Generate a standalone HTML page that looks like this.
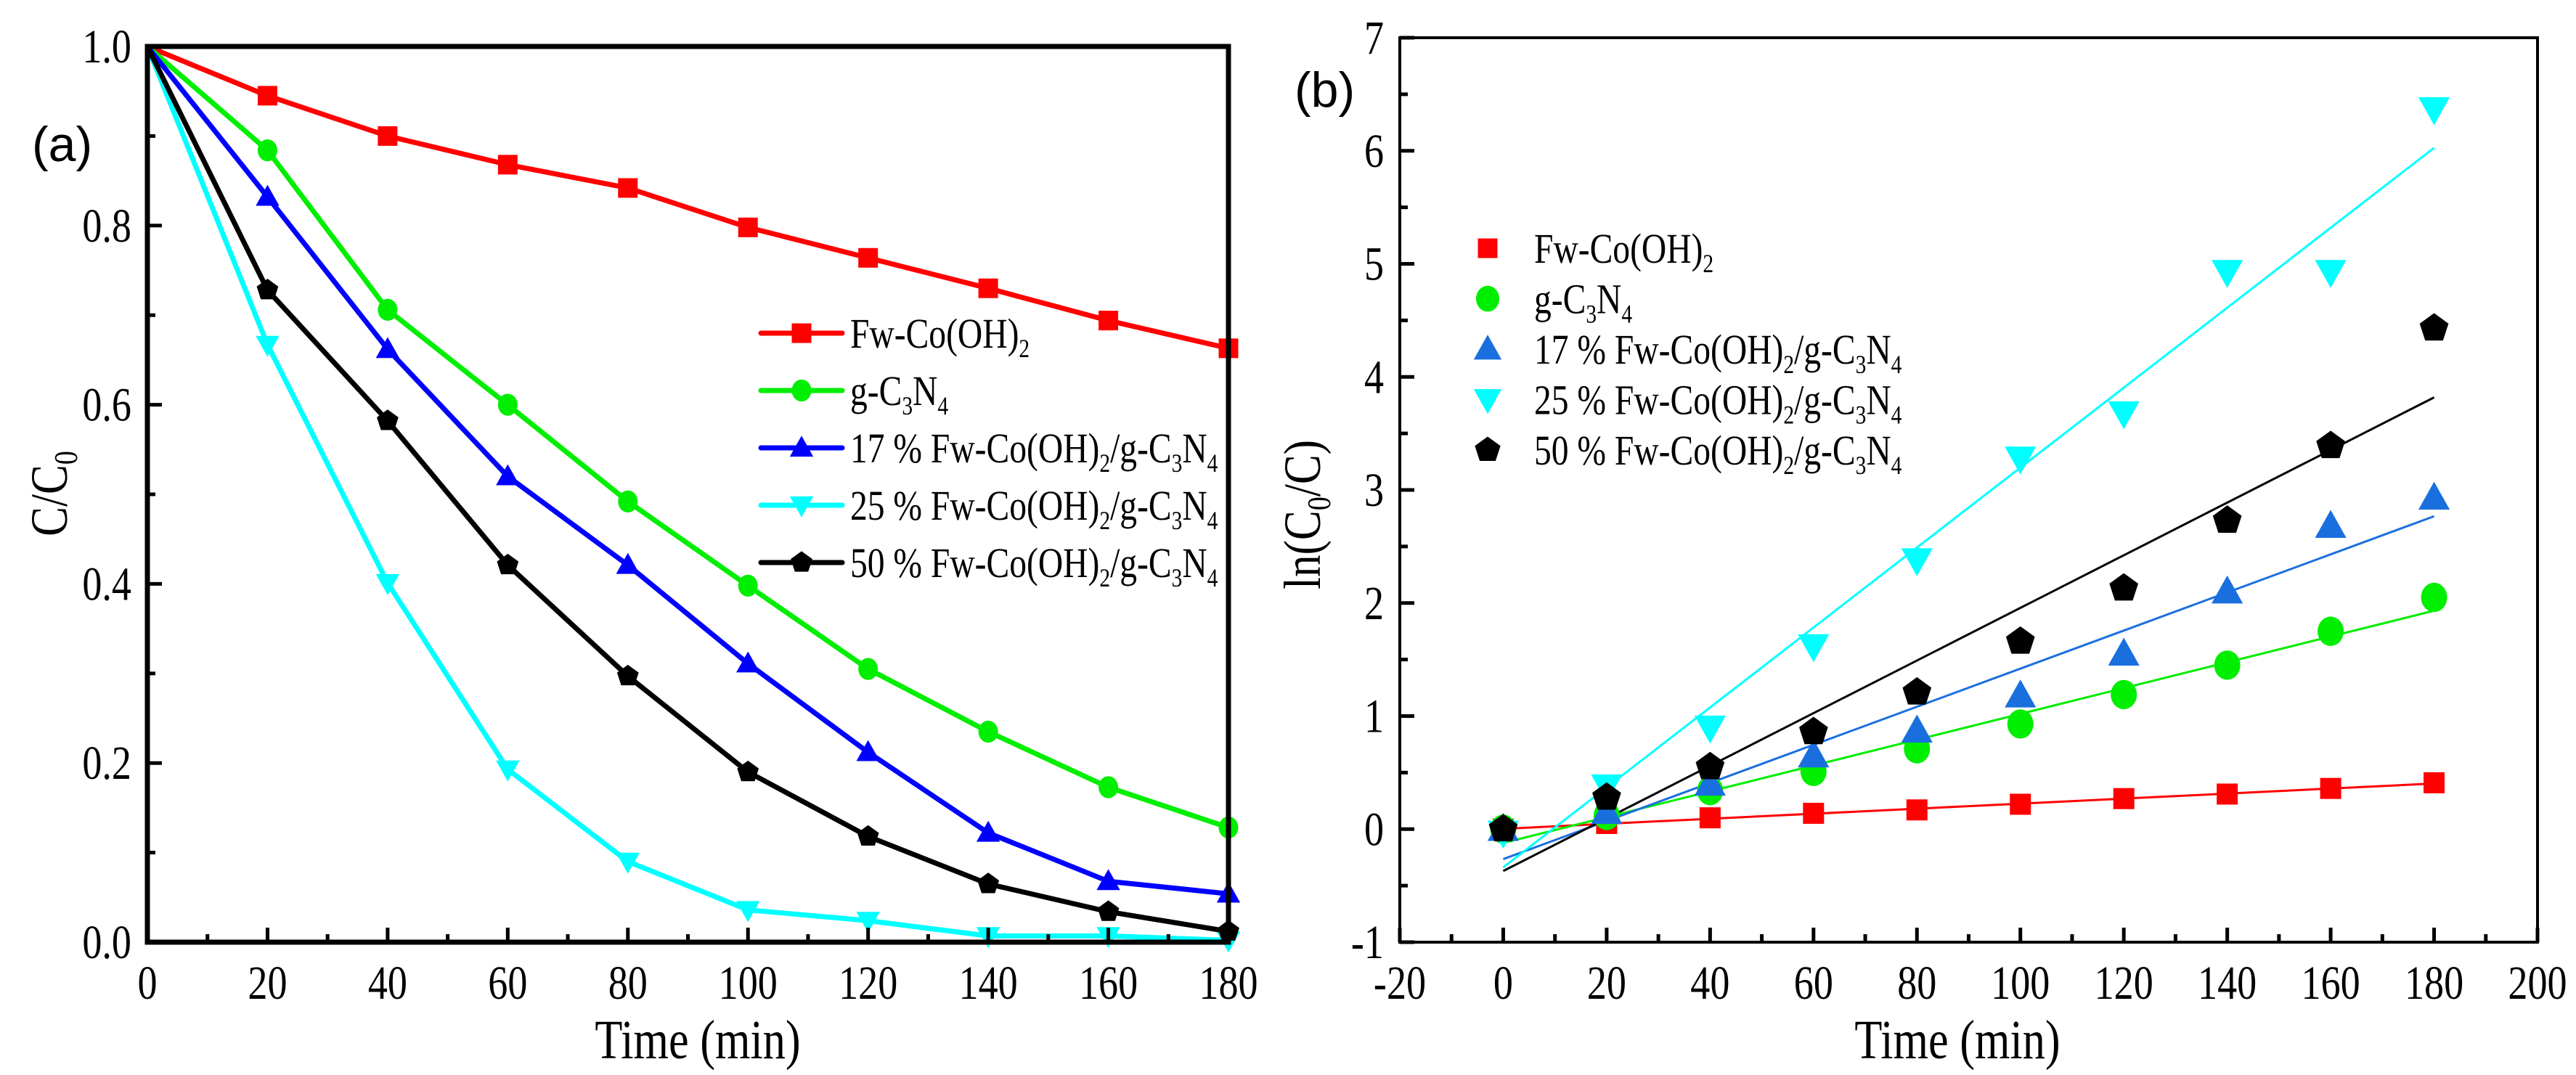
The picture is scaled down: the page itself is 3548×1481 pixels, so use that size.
<!DOCTYPE html>
<html><head><meta charset="utf-8"><style>
html,body{margin:0;padding:0;background:#fff;}
svg{display:block;}
text{font-family:"Liberation Serif",serif;fill:#000;}
</style></head><body>
<svg id="chart" width="3548" height="1481" viewBox="0 0 3548 1481" xmlns="http://www.w3.org/2000/svg"></svg>
<script>
// ---- Panel (a) data ----
const timeA = [0,20,40,60,80,100,120,140,160,180];
const aFw = [1,0.945,0.900,0.868,0.842,0.798,0.764,0.730,0.694,0.663];
const aGCN = [1,0.884,0.706,0.600,0.492,0.398,0.305,0.235,0.173,0.128];
const a17 = [1,0.832,0.662,0.520,0.421,0.311,0.212,0.122,0.068,0.054];
const a25 = [1,0.667,0.401,0.193,0.090,0.036,0.024,0.007,0.007,0.002];
const a50 = [1,0.728,0.582,0.421,0.297,0.190,0.118,0.065,0.034,0.012];
const xTicksA = ["0","20","40","60","80","100","120","140","160","180"];
const yTicksA = ["0.0","0.2","0.4","0.6","0.8","1.0"];
// ---- Panel (b) data ----
const timeB = [0,20,40,60,80,100,120,140,160,180];
const bFw = [0,0.05,0.10,0.14,0.17,0.22,0.27,0.31,0.36,0.41];
const bGCN = [0,0.12,0.34,0.51,0.71,0.93,1.19,1.45,1.75,2.05];
const b17 = [0,0.15,0.40,0.65,0.87,1.18,1.55,2.10,2.68,2.93];
const b25 = [-0.03,0.38,0.90,1.62,2.38,3.28,3.68,4.93,4.93,6.37];
const b50 = [0,0.28,0.55,0.86,1.21,1.66,2.13,2.73,3.39,4.43];
const xTicksB = ["-20","0","20","40","60","80","100","120","140","160","180","200"];
const yTicksB = ["-1","0","1","2","3","4","5","6","7"];

const NS="http://www.w3.org/2000/svg";
const svg=document.getElementById('chart');
function mk(tag,attrs,parent){const e=document.createElementNS(NS,tag);for(const k in attrs)e.setAttribute(k,attrs[k]);(parent||svg).appendChild(e);return e;}

const axA={x0:203,x1:1692,y0:1298,y1:64,xmin:0,xmax:180,ymin:0,ymax:1};
const axB={x0:1928,x1:3495,y0:1298,y1:52,xmin:-20,xmax:200,ymin:-1,ymax:7};
function sx(ax,v){return ax.x0+(v-ax.xmin)/(ax.xmax-ax.xmin)*(ax.x1-ax.x0);}
function sy(ax,v){return ax.y0-(v-ax.ymin)/(ax.ymax-ax.ymin)*(ax.y0-ax.y1);}

function marker(g,type,cx,cy,s,color){
  let e;
  if(type==='square'){e=mk('rect',{x:cx-s/2,y:cy-s/2,width:s,height:s,fill:color},g);}
  else if(type==='circle'){e=mk('ellipse',{cx:cx,cy:cy,rx:s*0.5,ry:s*0.56,fill:color},g);}
  else if(type==='up'){e=mk('polygon',{points:`${cx},${cy-s*0.62} ${cx+s*0.6},${cy+s*0.45} ${cx-s*0.6},${cy+s*0.45}`,fill:color},g);}
  else if(type==='down'){e=mk('polygon',{points:`${cx},${cy+s*0.62} ${cx+s*0.6},${cy-s*0.45} ${cx-s*0.6},${cy-s*0.45}`,fill:color},g);}
  else {let p=[];for(let i=0;i<5;i++){const a=-Math.PI/2+i*2*Math.PI/5;p.push((cx+s*0.58*Math.cos(a))+','+(cy+s*0.58*Math.sin(a)));}
    e=mk('polygon',{points:p.join(' '),fill:color},g);}
  
  
  return e;
}

function txt(x,y,str,size,anchor,parent,sc){
  const t=mk('text',{transform:`translate(${x},${y}) scale(${sc||0.82},1)`,'font-size':size,'text-anchor':anchor||'middle'},parent);
  t.textContent=str;return t;
}
function richTxt(x,y,parts,size,parent){
  const t=mk('text',{transform:`translate(${x},${y}) scale(0.82,1)`,'font-size':size},parent);
  let prevSub=false;
  parts.forEach(p=>{const ts=mk('tspan',{},t);ts.textContent=p[0];
    if(p[1]){ts.setAttribute('font-size',size*0.62);ts.setAttribute('dy',size*0.22);}
    else if(prevSub){ts.setAttribute('dy',-size*0.22);}
    prevSub=!!p[1];
  });
  return t;
}

function drawAxes(ax,name,xt,xMinorStep,yt,yMinorStep,xMajor,yMajor,sw){
  const g=mk('g',{});
  
  
  for(let v=ax.xmin; v<=ax.xmax+1e-9; v+=xMinorStep){
    const isMaj=Math.abs(Math.round((v-ax.xmin)/xMajor)*xMajor-(v-ax.xmin))<1e-6;
    const L=isMaj?20:11;const x=sx(ax,v);
    mk('line',{x1:x,x2:x,y1:ax.y0,y2:ax.y0-L,stroke:'#000','stroke-width':5},g);
  }
  for(let v=ax.ymin; v<=ax.ymax+1e-9; v+=yMinorStep){
    const isMaj=Math.abs(Math.round((v-ax.ymin)/yMajor)*yMajor-(v-ax.ymin))<1e-6;
    const L=isMaj?20:11;const y=sy(ax,v);
    mk('line',{x1:ax.x0,x2:ax.x0+L,y1:y,y2:y,stroke:'#000','stroke-width':5},g);
  }
  mk('rect',{x:ax.x0,y:ax.y1,width:ax.x1-ax.x0,height:ax.y0-ax.y1,fill:'none',stroke:'#000','stroke-width':sw},g);
  xt.forEach(s=>{const t=txt(sx(ax,parseFloat(s)),ax.y0+78,s,66,'middle',g);
    });
  yt.forEach(s=>{const t=txt(ax.x0-22,sy(ax,parseFloat(s))+22,s,66,'end',g);
    });
  return g;
}

// ----- Panel A -----
const seriesA=[[aFw,'#ff0000','square'],[aGCN,'#00ee00','circle'],[a17,'#0000ff','up'],[a25,'#00ffff','down'],[a50,'#000000','pent']];
const gA=mk('g',{});


const sNames=['fw-co-oh2','g-c3n4','17-percent','25-percent','50-percent'];
seriesA.forEach((s,i)=>{
  const g=mk('g',{},gA);
  
  
  const pts=timeA.map((t,j)=>sx(axA,t)+','+sy(axA,s[0][j])).join(' ');
  mk('polyline',{points:pts,fill:'none',stroke:s[1],'stroke-width':7,'stroke-linejoin':'round'},g);
  timeA.forEach((t,j)=>{if(j>0)marker(g,s[2],sx(axA,t),sy(axA,s[0][j]),27,s[1]);});
});
drawAxes(axA,'panel-a',xTicksA,10,yTicksA,0.1,20,0.2,7);

// ----- Panel B -----
const colB=['#ff0000','#00ee00','#1a6fdf','#00ffff','#000000'];
const seriesB=[[bFw,'square'],[bGCN,'circle'],[b17,'up'],[b25,'down'],[b50,'pent']];
const gB=mk('g',{});


seriesB.forEach((s,i)=>{
  const g=mk('g',{},gB);
  
  
  const n=timeB.length;const mx=timeB.reduce((a,b)=>a+b,0)/n;const my=s[0].reduce((a,b)=>a+b,0)/n;
  let sxy=0,sxx=0;timeB.forEach((t,j)=>{sxy+=(t-mx)*(s[0][j]-my);sxx+=(t-mx)*(t-mx);});
  const k=sxy/sxx,b=my-k*mx;
  const t0=timeB[0],t1=timeB[n-1];
  const fl=mk('line',{x1:sx(axB,t0),y1:sy(axB,k*t0+b),x2:sx(axB,t1),y2:sy(axB,k*t1+b),stroke:colB[i],'stroke-width':3},g);
  
  
});
seriesB.forEach((s,i)=>{
  const g=mk('g',{},gB);
  timeB.forEach((t,j)=>marker(g,s[1],sx(axB,t),sy(axB,s[0][j]),s[1]==='square'?29:36,colB[i]));
});
drawAxes(axB,'panel-b',xTicksB,10,yTicksB,0.5,20,1,4);

// ----- Legends -----
const legLabels=[
 [['Fw-Co(OH)',0],['2',1]],
 [['g-C',0],['3',1],['N',0],['4',1]],
 [['17 % Fw-Co(OH)',0],['2',1],['/g-C',0],['3',1],['N',0],['4',1]],
 [['25 % Fw-Co(OH)',0],['2',1],['/g-C',0],['3',1],['N',0],['4',1]],
 [['50 % Fw-Co(OH)',0],['2',1],['/g-C',0],['3',1],['N',0],['4',1]]
];
const legA=mk('g',{});


seriesA.forEach((s,i)=>{
  const y=459+i*79;
  const g=mk('g',{},legA);
  
  
  mk('line',{x1:1048,x2:1160,y1:y,y2:y,stroke:s[1],'stroke-width':7,'stroke-linecap':'round'},g);
  marker(g,s[2],1104,y,27,s[1]);
  richTxt(1171,y+20,legLabels[i],58,g);
});
const legB=mk('g',{});


seriesB.forEach((s,i)=>{
  const y=342+i*69.5;
  const g=mk('g',{},legB);
  
  
  marker(g,s[1],2049,y,s[1]==='square'?27:32,colB[i]);
  richTxt(2113,y+20,legLabels[i],58,g);
});

// ----- Titles -----
let t;
t=txt(961,1458,'Time (min)',76,'middle');

t=txt(2696,1458,'Time (min)',76,'middle');

t=mk('text',{transform:'translate(92,680) rotate(-90) scale(0.85,1)','font-size':72,'text-anchor':'middle'});
t.innerHTML='C/C<tspan font-size="45" dy="14">0</tspan>';

t=mk('text',{transform:'translate(1818,709) rotate(-90) scale(0.85,1)','font-size':72,'text-anchor':'middle'});
t.innerHTML='ln(C<tspan font-size="45" dy="14">0</tspan><tspan dy="-14">/C)</tspan>';

t=mk('text',{x:44,y:222,'font-size':68,style:'font-family:"Liberation Sans",sans-serif'});
t.textContent='(a)';

t=mk('text',{x:1783,y:147,'font-size':68,style:'font-family:"Liberation Sans",sans-serif'});
t.textContent='(b)';

</script>
</body></html>
